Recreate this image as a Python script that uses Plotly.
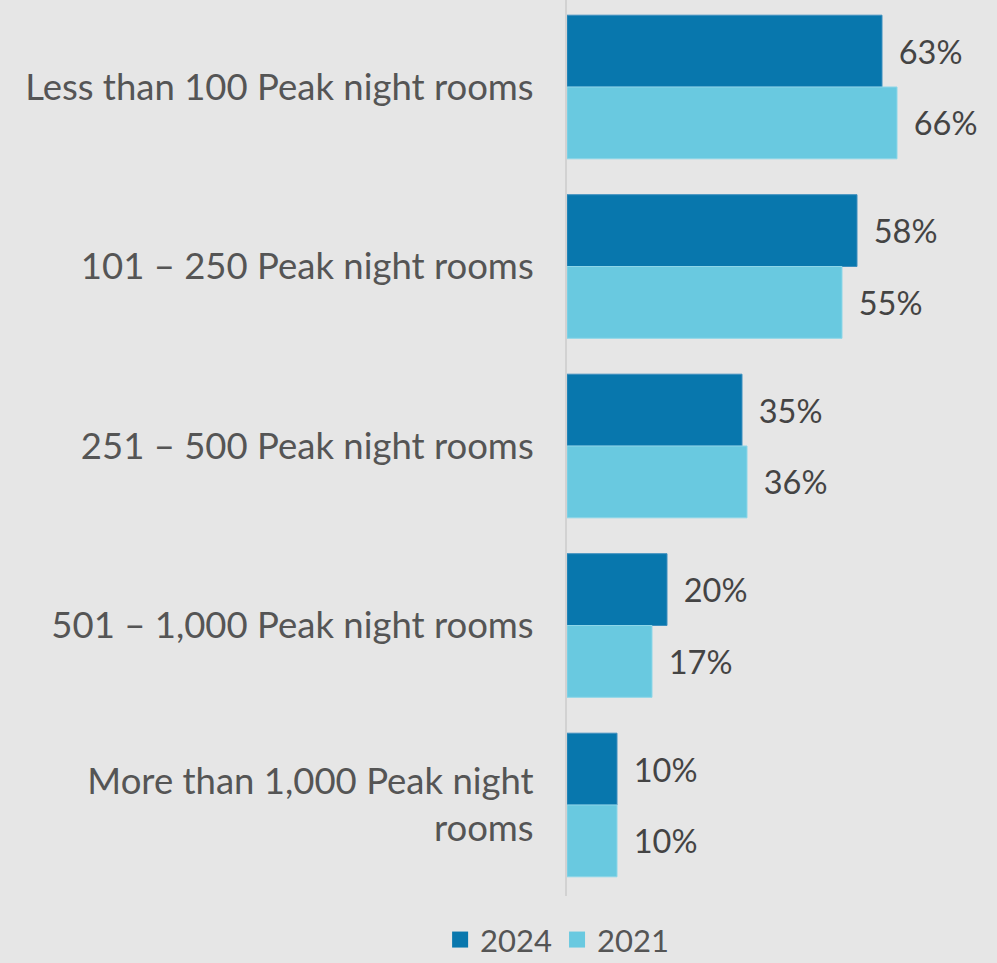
import plotly.graph_objects as go

categories = [
    "Less than 100 Peak night rooms",
    "101 – 250 Peak night rooms",
    "251 – 500 Peak night rooms",
    "501 – 1,000 Peak night rooms",
    "More than 1,000 Peak night<br>rooms",
]
values_2024 = [63, 58, 35, 20, 10]
values_2021 = [66, 55, 36, 17, 10]
series_names = ["2024", "2021"]
colors = ["#0877ad", "#69c9e0"]
edge_colors = ["#3d8fbe", "#8dd6e8"]

FONT = "Lato, 'Noto Sans', sans-serif"
pad = "\u00a0\u2006"

fig = go.Figure()
for name, vals, c, ec in zip(series_names, [values_2024, values_2021], colors, edge_colors):
    fig.add_trace(go.Bar(
        y=categories, x=vals, name=name, orientation="h", showlegend=False,
        marker=dict(color=c, line=dict(color=ec, width=1)),
        text=[f"{pad}{v}%" for v in vals], textposition="outside",
        textfont=dict(size=32.5, color="#444444", family=FONT), cliponaxis=False,
    ))
for name, c in zip(series_names, colors):
    fig.add_trace(go.Scatter(
        x=[None], y=[None], mode="markers", name=name,
        marker=dict(symbol="square", size=17, color=c),
    ))

fig.update_layout(
    width=997, height=963,
    paper_bgcolor="#e6e6e6", plot_bgcolor="#e6e6e6",
    margin=dict(l=567, r=0, t=0, b=67, autoexpand=False),
    barmode="group", bargap=0.2, bargroupgap=0,
    font=dict(family=FONT, color="#555555", size=31),
    showlegend=True,
    legend=dict(orientation="h", x=-0.023, xanchor="center", y=-0.049, yanchor="middle",
                font=dict(size=31, color="#555555"), bgcolor="rgba(0,0,0,0)",
                itemsizing="trace", itemwidth=30, tracegroupgap=0),
)
fig.update_xaxes(range=[0, 86], visible=False, showgrid=False, zeroline=False)
fig.update_yaxes(range=[4.507, -0.4847], showgrid=False, zeroline=False,
                 showline=True, linecolor="#d2d2d2", linewidth=2,
                 ticks="", ticklabelstandoff=24,
                 tickfont=dict(size=36.5, color="#555555", family=FONT))

fig.write_html("out.html", config={"displayModeBar": False},
               post_script="document.body.style.margin='0';document.body.style.overflow='hidden';")
